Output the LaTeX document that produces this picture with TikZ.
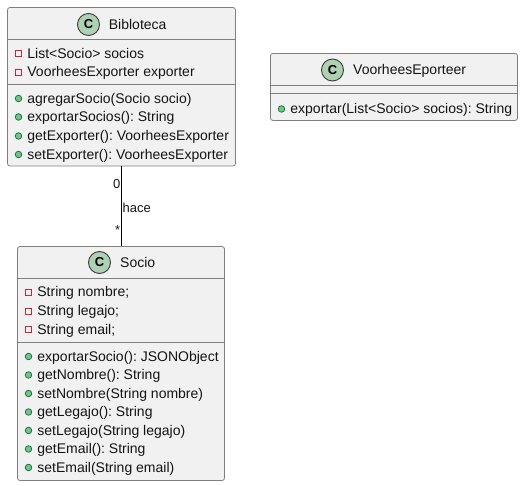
\documentclass[tikz,border=0pt]{standalone}
\usepackage{fontspec}
\setmainfont{Liberation Sans}
\frenchspacing
\tikzset{
  x=1pt,y=-1pt,
  classbox/.style={draw=boxgray,fill=boxfill,rounded corners=2.5pt,line width=0.8pt,inner sep=0pt,outer sep=0pt},
  sepline/.style={draw=boxgray,line width=0.8pt},
  badge/.style={circle,draw=badgeline,fill=badgefill,line width=0.9pt,minimum size=22pt,inner sep=0pt,font=\fontsize{13}{14}\selectfont\bfseries},
  title/.style={anchor=base west,inner sep=0pt,font=\fontsize{14}{14}\selectfont\frenchspacing,text=black!92},
  member/.style={anchor=base west,inner sep=0pt,font=\fontsize{14}{14}\selectfont\frenchspacing,text=black!92},
  label/.style={inner sep=0pt,font=\fontsize{13}{13}\selectfont,text=black!92},
  privmark/.style={draw=privred,fill=none,line width=0.8pt,minimum size=6pt,inner sep=0pt},
  pubmark/.style={circle,draw=pubgreen,fill=pubfill,line width=0.8pt,minimum size=6.5pt,inner sep=0pt},
}
\definecolor{boxgray}{HTML}{7F7F7F}
\definecolor{boxfill}{HTML}{F1F1F1}
\definecolor{badgeline}{HTML}{3B3B3B}
\definecolor{badgefill}{HTML}{ADD1B2}
\definecolor{privred}{HTML}{C82930}
\definecolor{pubgreen}{HTML}{038048}
\definecolor{pubfill}{HTML}{84BE84}
\newcommand{\rowpriv}[4]{\node[privmark] (#1m) at (#2,#3) {}; \node[member] (#1t) at (#2+8.7,#3+4.8) {#4};}
\newcommand{\rowpub}[4]{\node[pubmark] (#1m) at (#2,#3) {}; \node[member] (#1t) at (#2+8.7,#3+4.8) {#4};}
\begin{document}
\begin{tikzpicture}
\useasboundingbox (0,0) rectangle (523,486);
% class boxes
\node[classbox,minimum width=228pt,minimum height=158.5pt] (bib) at (121.5,86.75) {};
\node[classbox,minimum width=247pt,minimum height=67pt] (voor) at (394,87) {};
\node[classbox,minimum width=207pt,minimum height=234pt] (soc) at (121,363.5) {};
% connector
\draw[line width=0.9pt,black] (bib.south) -- (bib.south |- soc.north);
\node[label,anchor=east] (l0) at (120.5,184.5) {0};
\node[label,anchor=west] (lh) at (122.5,207.5) {hace};
\node[label,anchor=east] (ls) at (120.5,230) {*};
% Bibloteca
\draw[sepline] (bib.west |- 0,39.5) -- (bib.east |- 0,39.5);
\draw[sepline] (bib.west |- 0,84.5) -- (bib.east |- 0,84.5);
\node[badge] (bibc) at (88.5,24.5) {C};
\node[title] (bibn) at (108.7,29.5) {Bibloteca};
\rowpriv{b1}{18.5}{53.5}{List<Socio> socios}
\rowpriv{b2}{18.5}{72}{VoorheesExporter exporter}
\rowpub{b3}{18.5}{98.5}{agregarSocio(Socio socio)}
\rowpub{b4}{18.5}{117}{exportarSocios(): String}
\rowpub{b5}{18.5}{136}{getExporter(): VoorheesExporter}
\rowpub{b6}{18.5}{154.5}{setExporter(): VoorheesExporter}
% VoorheesEporteer
\draw[sepline] (voor.west |- 0,85.5) -- (voor.east |- 0,85.5);
\draw[sepline] (voor.west |- 0,93.5) -- (voor.east |- 0,93.5);
\node[badge] (voorc) at (332.5,70) {C};
\node[title] (voorn) at (353,75) {VoorheesEporteer};
\rowpub{v1}{281.5}{109}{exportar(List<Socio> socios): String}
% Socio
\draw[sepline] (soc.west |- 0,278.5) -- (soc.east |- 0,278.5);
\draw[sepline] (soc.west |- 0,342) -- (soc.east |- 0,342);
\node[badge] (socc) at (99.5,262.5) {C};
\node[title] (socn) at (120,267.5) {Socio};
\rowpriv{s1}{28.5}{292}{String nombre;}
\rowpriv{s2}{28.5}{311}{String legajo;}
\rowpriv{s3}{28.5}{329.5}{String email;}
\rowpub{s4}{28.5}{356.5}{exportarSocio(): JSONObject}
\rowpub{s5}{28.5}{375}{getNombre(): String}
\rowpub{s6}{28.5}{393.5}{setNombre(String nombre)}
\rowpub{s7}{28.5}{412}{getLegajo(): String}
\rowpub{s8}{28.5}{430.5}{setLegajo(String legajo)}
\rowpub{s9}{28.5}{449}{getEmail(): String}
\rowpub{s10}{28.5}{467.5}{setEmail(String email)}
\end{tikzpicture}
\end{document}
